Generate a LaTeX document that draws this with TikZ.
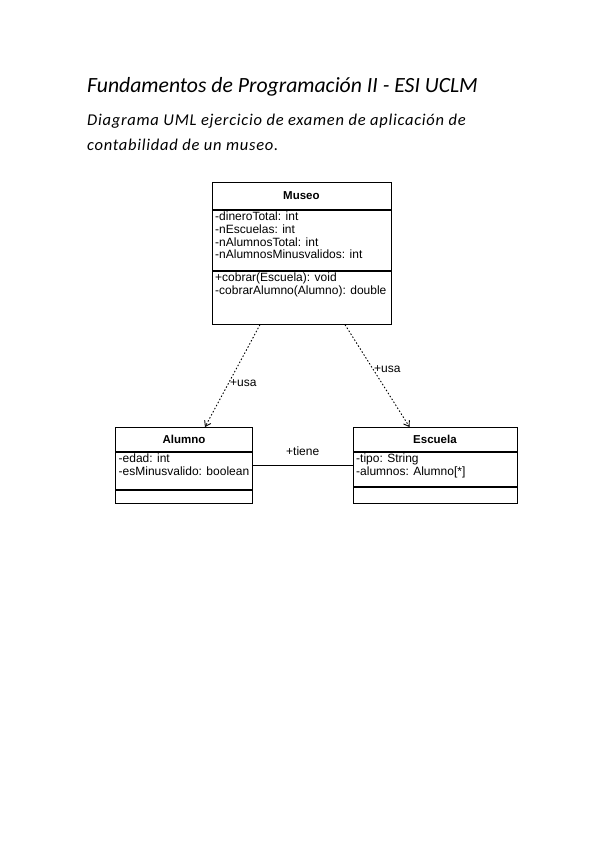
\documentclass[tikz,border=0pt]{standalone}
\usepackage{fontspec}
\usetikzlibrary{arrows.meta}
\setmainfont{Carlito}
\newfontfamily\umlfont{Liberation Sans}
\newfontfamily\subfont[LetterSpace=4.5]{Carlito}

\tikzset{
  caja/.style={draw,line width=0.9pt,rectangle,inner sep=0pt,anchor=north west},
  cabecera/.style={caja,font=\umlfont\bfseries\fontsize{11.5}{12.7}\selectfont},
  texto/.style={anchor=north west,align=left,inner xsep=3.5pt,inner ysep=2pt,
    font=\umlfont\fontsize{12}{12.7}\selectfont},
  usa/.style={->,>={Straight Barb[length=5pt,width=7pt]},line width=0.9pt,dash pattern=on 1.5pt off 2pt},
  etiqueta/.style={font=\umlfont\fontsize{12}{12.7}\selectfont,inner sep=1pt}
}

\begin{document}
\begin{tikzpicture}[x=1pt,y=-1pt]
\useasboundingbox (0,0) rectangle (599,848);

% Titulo
\node[anchor=base west,inner sep=0pt,font=\fontsize{21.7}{26}\selectfont\itshape]
  (titulo) at (87,93) {Fundamentos de Programación II - ESI UCLM};
\node[anchor=base west,inner sep=0pt,align=left,font=\subfont\fontsize{16.5}{25}\selectfont\itshape]
  (subtitulo) at (87,150) {Diagrama UML ejercicio de examen de aplicación de\\contabilidad de un museo.};

% Museo
\node[cabecera,minimum width=179pt,minimum height=27pt] (museo) at (211.5,182) {Museo};
\node[caja,minimum width=179pt,minimum height=60pt] (museoAtr) at (museo.south west) {};
\node[caja,minimum width=179pt,minimum height=53pt] (museoMet) at (museoAtr.south west) {};
\node[texto] (museoAtrTxt) at (museoAtr.north west)
  {-dineroTotal: int\\-nEscuelas: int\\-nAlumnosTotal: int\\-nAlumnosMinusvalidos: int};
\node[texto] (museoMetTxt) at (museoMet.north west)
  {+cobrar(Escuela): void\\-cobrarAlumno(Alumno): double};

% Alumno
\node[cabecera,minimum width=137pt,minimum height=24pt] (alumno) at (115,427) {Alumno};
\node[caja,minimum width=137pt,minimum height=37pt] (alumnoAtr) at (alumno.south west) {};
\node[caja,minimum width=137pt,minimum height=13.5pt] (alumnoMet) at (alumnoAtr.south west) {};
\node[texto] (alumnoAtrTxt) at (alumnoAtr.north west)
  {-edad: int\\-esMinusvalido: boolean};

% Escuela
\node[cabecera,minimum width=164pt,minimum height=24pt] (escuela) at (352.5,427) {Escuela};
\node[caja,minimum width=164pt,minimum height=34pt] (escuelaAtr) at (escuela.south west) {};
\node[caja,minimum width=164pt,minimum height=16.5pt] (escuelaMet) at (escuelaAtr.south west) {};
\node[texto] (escuelaAtrTxt) at (escuelaAtr.north west)
  {-tipo: String\\-alumnos: Alumno[*]};

% Relaciones
\draw[usa] ([xshift=48.5pt]museoMet.south west) -- ([xshift=90pt]alumno.north west)
  node[etiqueta,pos=0.57,right] {+usa};
\draw[usa] ([xshift=133.5pt]museoMet.south west) -- ([xshift=57pt]escuela.north west)
  node[etiqueta,pos=0.43,right] {+usa};
\draw[line width=0.9pt] ([yshift=5.5pt]alumnoAtr.east) -- ([yshift=4pt]escuelaAtr.west)
  node[etiqueta,midway,above=8pt] {+tiene};

\end{tikzpicture}
\end{document}
